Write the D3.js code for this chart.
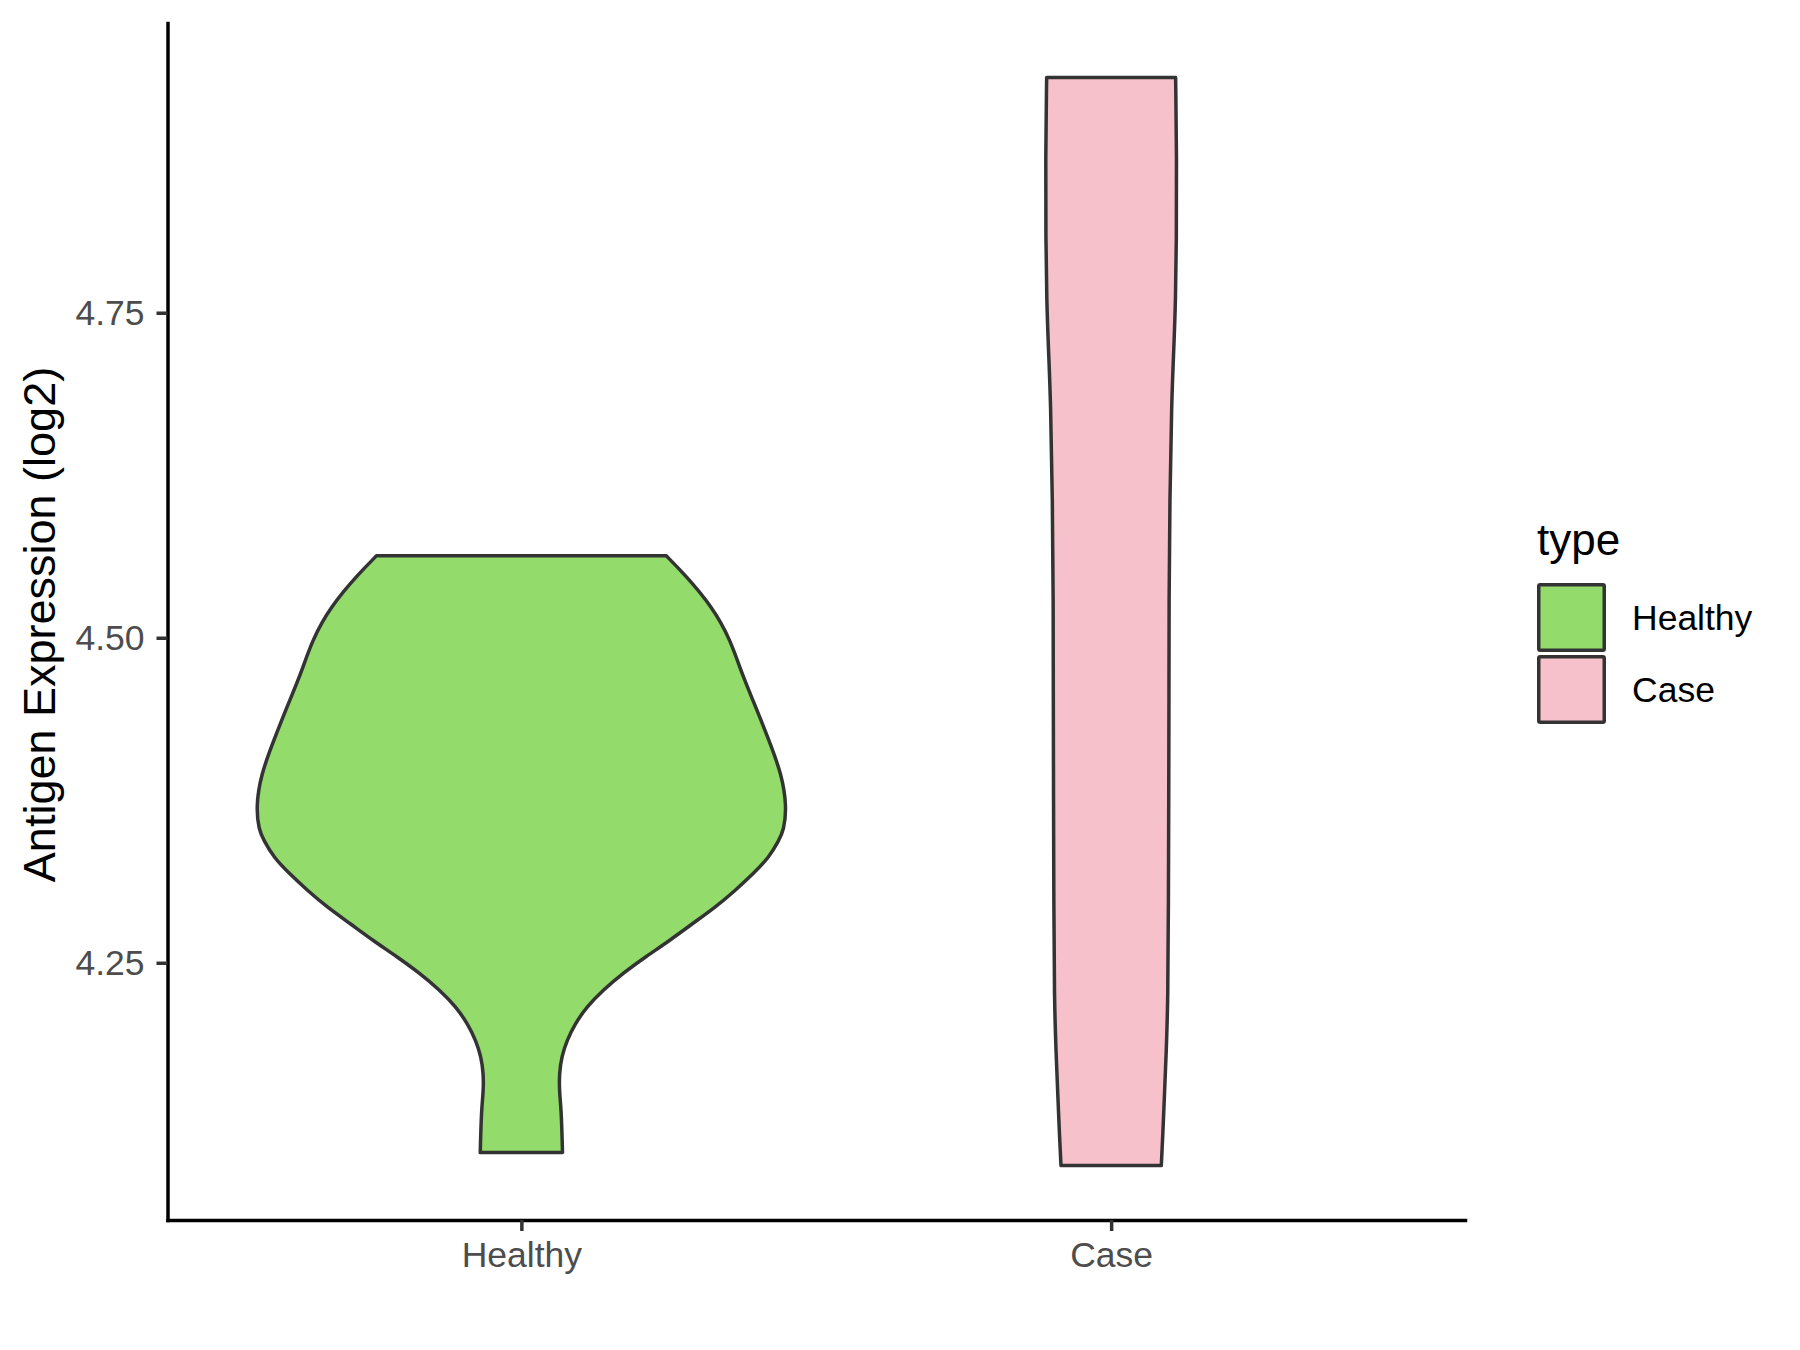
<!DOCTYPE html>
<html lang="en">

<head>
    <meta charset="UTF-8">
    <style>
        body {
            margin: 0;
            background: #ffffff;
        }
    </style>
    <script src="https://cdnjs.cloudflare.com/ajax/libs/d3/7.8.5/d3.min.js"></script>
    <title>Antigen Expression</title>
</head>

<body>
    <div id="chart"></div>
    <script>
        // groups shown on the x axis and in the legend
        var categories = ['Healthy', 'Case'];
        var fills = ['#93DB6B', '#F7C1CB'];

        // violin outlines: expression value and relative density
        var healthyValues = [4.104, 4.126, 4.139, 4.152, 4.165, 4.178, 4.190, 4.203, 4.216, 4.229,
            4.242, 4.255, 4.267, 4.280, 4.293, 4.306, 4.319, 4.331, 4.344, 4.352,
            4.370, 4.395, 4.421, 4.447, 4.472, 4.498, 4.524, 4.549, 4.563];
        var healthyDensity = [0.155, 0.152, 0.149, 0.143, 0.143, 0.152, 0.171, 0.202, 0.246, 0.308,
            0.383, 0.471, 0.558, 0.644, 0.733, 0.808, 0.876, 0.933, 0.970, 0.989,
            1.000, 0.981, 0.933, 0.883, 0.831, 0.789, 0.719, 0.614, 0.546];

        var caseValues = [4.094, 4.119, 4.144, 4.183, 4.221, 4.298, 4.375, 4.452, 4.529, 4.606,
            4.683, 4.721, 4.760, 4.806, 4.867, 4.931];
        var caseDensity = [0.189, 0.195, 0.200, 0.208, 0.214, 0.216, 0.217, 0.218, 0.218, 0.221,
            0.228, 0.236, 0.243, 0.246, 0.247, 0.243];

        var yTicks = [4.25, 4.50, 4.75];

        function drawChart() {
            var width = 1800,
                height = 1350,
                plotLeft = 167.5,
                plotRight = 1465,
                plotTop = 23,
                plotBottom = 1220,
                font = '"Liberation Sans", Arial, sans-serif';

            var groups = [
                { name: categories[0], fill: fills[0], pts: healthyValues.map(function (v, i) { return { v: v, d: healthyDensity[i] }; }) },
                { name: categories[1], fill: fills[1], pts: caseValues.map(function (v, i) { return { v: v, d: caseDensity[i] }; }) }
            ];

            var ext = d3.extent(healthyValues.concat(caseValues));
            var pad = (ext[1] - ext[0]) * 0.05;

            var x = d3.scalePoint()
                .domain(categories)
                .range([plotLeft, plotRight])
                .padding(0.6);

            var y = d3.scaleLinear()
                .domain([ext[0] - pad, ext[1] + pad])
                .range([plotBottom, plotTop]);

            var maxDensity = d3.max(healthyDensity.concat(caseDensity));
            var w = d3.scaleLinear()
                .domain([0, maxDensity])
                .range([0, x.step() * 0.45]);

            var svg = d3.select('#chart')
                .append('svg')
                .attr('width', width)
                .attr('height', height)
                .style('font-family', font);

            // violins
            svg.selectAll('.violin')
                .data(groups)
                .enter()
                .append('path')
                .attr('class', 'violin')
                .attr('d', function (g) {
                    var cx = x(g.name);
                    return d3.area()
                        .curve(d3.curveBasis)
                        .y(function (p) { return y(p.v); })
                        .x0(function (p) { return cx - w(p.d); })
                        .x1(function (p) { return cx + w(p.d); })(g.pts);
                })
                .attr('fill', function (g) { return g.fill; })
                .attr('stroke', '#333333')
                .attr('stroke-width', 3.5)
                .attr('stroke-linejoin', 'round');

            // y axis
            var yAxis = svg.append('g')
                .attr('transform', 'translate(' + plotLeft + ',0)')
                .call(d3.axisLeft(y)
                    .tickValues(yTicks)
                    .tickFormat(d3.format('.2f'))
                    .tickSize(11)
                    .tickSizeOuter(0)
                    .tickPadding(12));

            // x axis
            var xAxis = svg.append('g')
                .attr('transform', 'translate(0,' + plotBottom + ')')
                .call(d3.axisBottom(x)
                    .tickSize(11)
                    .tickSizeOuter(0));

            [yAxis, xAxis].forEach(function (ax) {
                ax.select('.domain')
                    .attr('stroke', '#000000')
                    .attr('stroke-width', 3.5)
                    .attr('stroke-linecap', 'square');
                ax.selectAll('.tick line')
                    .attr('stroke', '#333333')
                    .attr('stroke-width', 3.5);
                ax.selectAll('.tick text')
                    .attr('fill', '#4D4D4D')
                    .style('font-size', '35.5px')
                    .style('font-family', font);
            });

            xAxis.selectAll('.tick text')
                .attr('y', 47)
                .attr('dy', 0);

            // y axis title
            svg.append('text')
                .attr('transform', 'translate(55,' + ((plotTop + plotBottom) / 2 + 3) + ') rotate(-90)')
                .attr('text-anchor', 'middle')
                .style('font-size', '45px')
                .attr('fill', '#000000')
                .text('Antigen Expression (log2)');

            // legend
            var legend = svg.append('g')
                .attr('transform', 'translate(1537, 555)');

            legend.append('text')
                .attr('x', 0)
                .attr('y', 0)
                .style('font-size', '44px')
                .attr('fill', '#000000')
                .text('type');

            var keys = legend.selectAll('.key')
                .data(groups)
                .enter()
                .append('g')
                .attr('class', 'key')
                .attr('transform', function (d, i) {
                    return 'translate(0,' + (28 + i * 72) + ')';
                });

            keys.append('rect')
                .attr('x', 1.75)
                .attr('y', 1.75)
                .attr('width', 65.5)
                .attr('height', 65.5)
                .attr('rx', 1.5)
                .attr('fill', function (d) { return d.fill; })
                .attr('stroke', '#333333')
                .attr('stroke-width', 3.5);

            keys.append('text')
                .attr('x', 95)
                .attr('y', 34.5)
                .attr('dy', '0.36em')
                .style('font-size', '35.5px')
                .attr('fill', '#000000')
                .text(function (d) { return d.name; });
        }
        drawChart();
    </script>
</body>

</html>
